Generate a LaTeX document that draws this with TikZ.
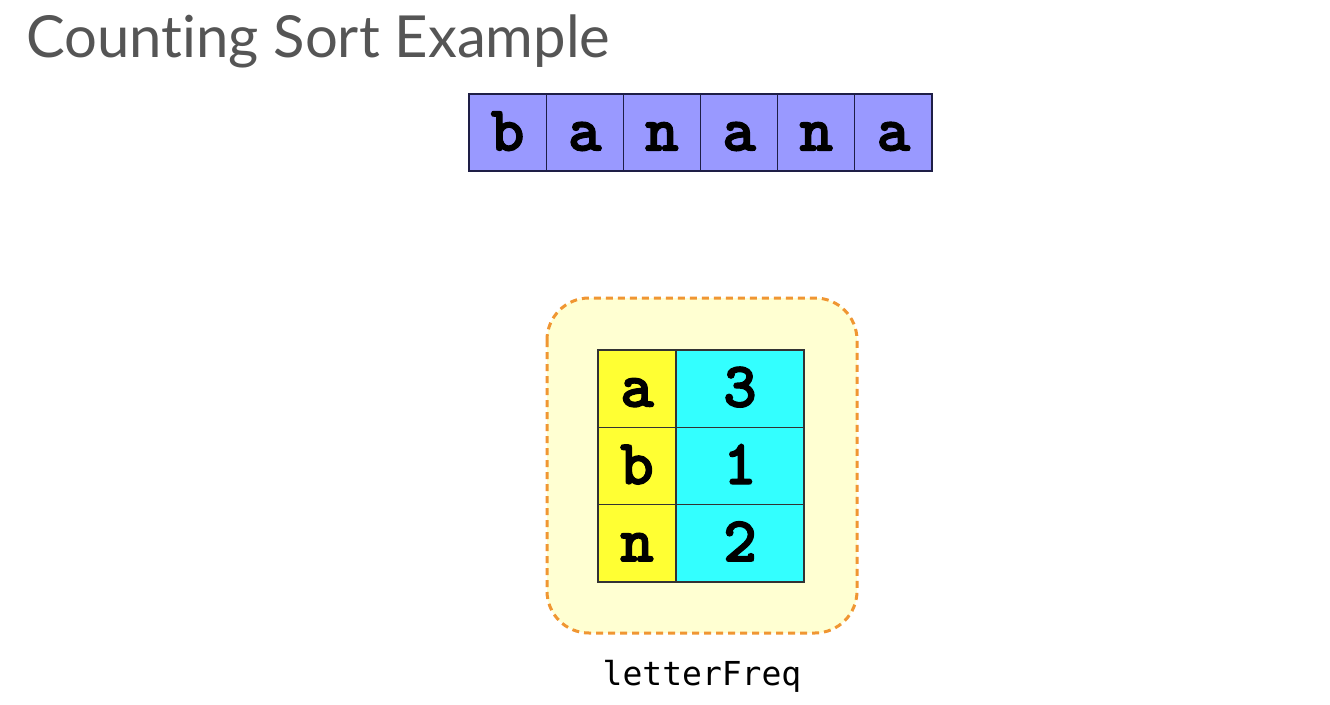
\documentclass[tikz,border=0pt]{standalone}
\usepackage{fontspec}
\setmainfont{Lato}[Ligatures=NoCommon]
\newfontfamily\dmono{DejaVu Sans Mono}
\newfontfamily\courb{lmmonolt10-bold.otf}[FakeBold=2]
\definecolor{titlegrey}{RGB}{85,85,85}
\definecolor{arrfill}{RGB}{153,153,255}
\definecolor{arrdraw}{RGB}{30,30,70}
\definecolor{keyfill}{RGB}{255,255,51}
\definecolor{valfill}{RGB}{51,255,255}
\definecolor{boxfill}{RGB}{255,255,210}
\definecolor{boxdraw}{RGB}{240,150,50}
\begin{document}
\begin{tikzpicture}[x=1pt,y=-1pt,
  cellfont/.style={font=\courb\fontsize{64}{64}\selectfont,text height=36pt,text depth=0pt},
  arrcell/.style={draw=arrdraw,fill=arrfill,line width=1.2pt,minimum width=77.2pt,minimum height=77pt,inner sep=0pt,cellfont},
  keycell/.style={draw=black!80,fill=keyfill,line width=1.2pt,minimum width=78pt,minimum height=77.3pt,inner sep=0pt,cellfont},
  valcell/.style={draw=black!80,fill=valfill,line width=1.2pt,minimum width=128pt,minimum height=77.3pt,inner sep=0pt,cellfont},
  mapbox/.style={draw=boxdraw,fill=boxfill,line width=3pt,dash pattern=on 7pt off 5pt,rounded corners=42pt}]
\useasboundingbox (0,0) rectangle (1330,704);
\fill[white] (0,0) rectangle (1330,704);
\node[anchor=base west,inner sep=0pt,text=titlegrey,font=\fontsize{58}{58}\selectfont] (title) at (26,57) {Counting Sort Example};
\foreach \c [count=\i] in {b,a,n,a,n,a}{
  \node[arrcell] (s\i) at ({469+77.17*(\i-0.5)},132.5) {\c};
}
\draw[mapbox] (547,298) rectangle (857,633);
\foreach \k/\v [count=\i] in {a/3,b/1,n/2}{
  \node[keycell] (k\i) at (637,{350+77.33*(\i-0.5)}) {\k};
  \node[valcell] (v\i) at (740,{350+77.33*(\i-0.5)}) {\v};
}
\node[anchor=base,inner sep=0pt,font=\dmono\fontsize{33}{33}\selectfont] (lbl) at (702,685) {letterFreq};
\end{tikzpicture}
\end{document}
